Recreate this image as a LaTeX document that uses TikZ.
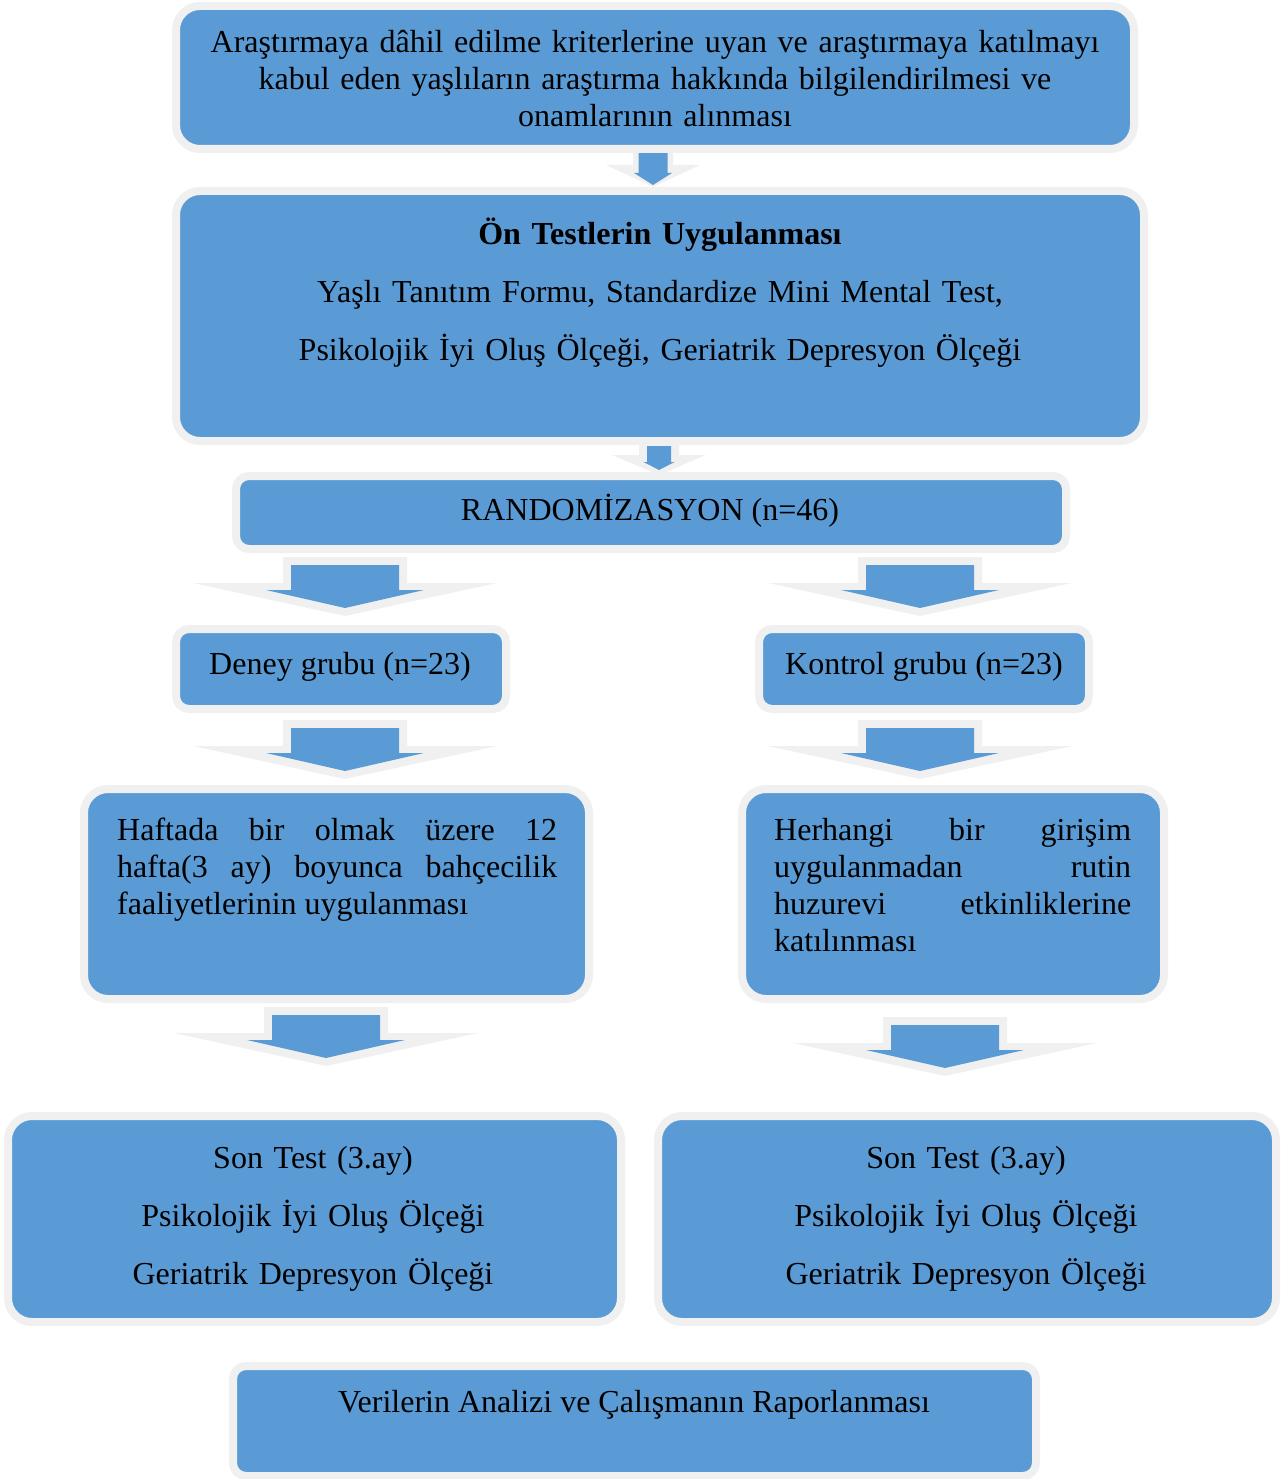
\documentclass[tikz,border=0pt]{standalone}
\usepackage{fontspec}
\setmainfont{Liberation Serif}
\usetikzlibrary{fit}
\definecolor{boxblue}{HTML}{5B9BD5}
\definecolor{rimgray}{HTML}{F0F0F0}
\tikzset{
  bigbox/.style={fill=boxblue, draw=rimgray, line width=8pt, rounded corners=24pt, inner sep=4pt},
  smallbox/.style={fill=boxblue, draw=rimgray, line width=8pt, rounded corners=13pt, inner sep=4pt},
  txt/.style={inner sep=0pt, font=\fontsize{32}{37}\selectfont, text=black},
  wide/.style={txt, font=\fontsize{32}{58}\selectfont},
  arrowrim/.style={fill=rimgray, draw=none},
  arrowbody/.style={fill=boxblue, draw=none}
}
% big block arrow: centre x, top y
\newcommand\bigblockarrow[2]{%
  \fill[arrowrim] (#1-62,#2) -- (#1+62,#2) -- (#1+62,#2+26) -- (#1+152,#2+26) -- (#1,#2+59) -- (#1-152,#2+26) -- (#1-62,#2+26) -- cycle;
  \fill[arrowbody] (#1-54,#2+8) -- (#1+54,#2+8) -- (#1+54,#2+33) -- (#1+79,#2+33) -- (#1,#2+51) -- (#1-79,#2+33) -- (#1-54,#2+33) -- cycle;
}
\begin{document}
\begin{tikzpicture}[x=1pt,y=-1pt]
\useasboundingbox (0,0) rectangle (1284,1479);
\hyphenpenalty=10000
% small arrows
\fill[arrowrim] (633,145) -- (673,145) -- (673,165) -- (700,165) -- (653,187) -- (606,165) -- (633,165) -- cycle;
\fill[arrowbody] (638.5,153) -- (667.5,153) -- (667.5,173) -- (672,173) -- (653,185) -- (634,173) -- (638.5,173) -- cycle;
\fill[arrowrim] (639,445) -- (679,445) -- (679,455) -- (706,455) -- (659,475) -- (612,455) -- (639,455) -- cycle;
\fill[arrowbody] (647,446) -- (671,446) -- (671,462) -- (674.5,462) -- (659,470) -- (643.5,462) -- (647,462) -- cycle;
% big arrows
\bigblockarrow{345}{557}
\bigblockarrow{920}{557}
\bigblockarrow{345}{720}
\bigblockarrow{920}{720}
\bigblockarrow{326}{1007}
\bigblockarrow{945}{1017}
% boxes
\node[bigbox, fit={(180,10) (1130,145)}] (consent) {};
\node[bigbox, fit={(180,195) (1140,437)}] (pretest) {};
\node[smallbox, fit={(240,480) (1062,545)}] (random) {};
\node[smallbox, fit={(180,633) (502,705)}] (deney) {};
\node[smallbox, fit={(763,633) (1085,705)}] (kontrol) {};
\node[bigbox, fit={(88,793) (585,995)}] (bahce) {};
\node[bigbox, fit={(746,793) (1160,995)}] (rutin) {};
\node[bigbox, fit={(12,1120) (617,1318)}] (sontestA) {};
\node[bigbox, fit={(662,1120) (1272,1318)}] (sontestB) {};
\node[smallbox, fit={(237,1370) (1032,1472)}] (analiz) {};
% texts
\node[txt, text width=1000pt, align=center, anchor=base] (t1) at (655,53)
  {Araştırmaya dâhil edilme kriterlerine uyan ve araştırmaya katılmayı\\kabul eden yaşlıların araştırma hakkında bilgilendirilmesi ve\\onamlarının alınması};
\node[wide, text width=1000pt, align=center, anchor=base] (t2) at (660,244)
  {\textbf{Ön Testlerin Uygulanması}\\Yaşlı Tanıtım Formu, Standardize Mini Mental Test,\\Psikolojik İyi Oluş Ölçeği, Geriatrik Depresyon Ölçeği};
\node[txt, anchor=base] (t3) at (650,520) {RANDOMİZASYON (n=46)};
\node[txt, anchor=base] (t4) at (340,674) {Deney grubu (n=23)};
\node[txt, anchor=base] (t5) at (924,674) {Kontrol grubu (n=23)};
\node[txt, text width=440pt, align=justify, anchor=base west] (t6) at (117,840)
  {Haftada bir olmak üzere 12\linebreak hafta(3 ay) boyunca bahçecilik\linebreak faaliyetlerinin uygulanması};
\node[txt, text width=357pt, align=justify, anchor=base west] (t7) at (774,840)
  {Herhangi bir girişim\linebreak uygulanmadan rutin\linebreak huzurevi etkinliklerine\linebreak katılınması};
\node[wide, text width=600pt, align=center, anchor=base] (t8) at (313,1168)
  {Son Test (3.ay)\\Psikolojik İyi Oluş Ölçeği\\Geriatrik Depresyon Ölçeği};
\node[wide, text width=600pt, align=center, anchor=base] (t9) at (966,1168)
  {Son Test (3.ay)\\Psikolojik İyi Oluş Ölçeği\\Geriatrik Depresyon Ölçeği};
\node[txt, anchor=base] (t10) at (634,1412) {Verilerin Analizi ve Çalışmanın Raporlanması};
\end{tikzpicture}
\end{document}
